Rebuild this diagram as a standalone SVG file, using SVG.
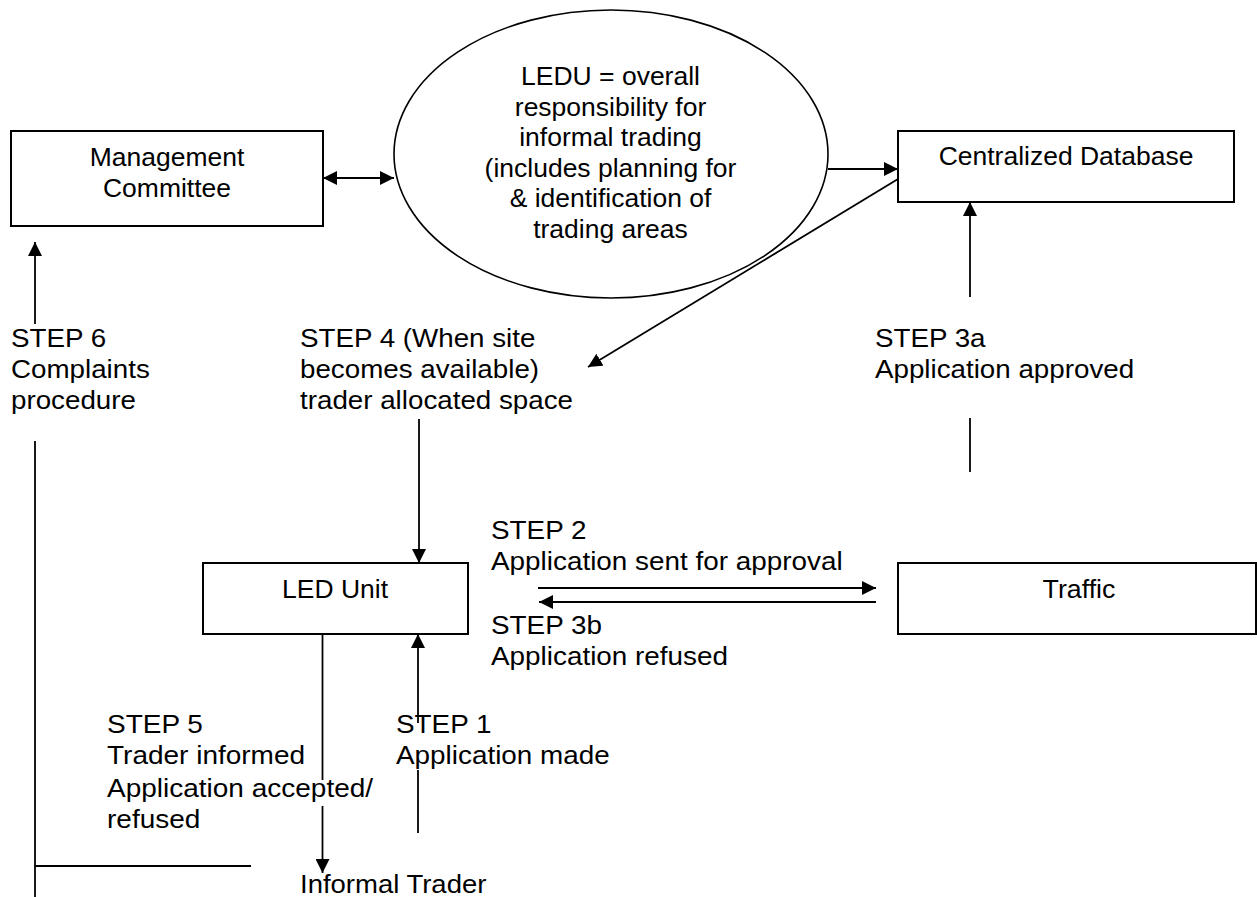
<svg xmlns="http://www.w3.org/2000/svg" width="1257" height="897" viewBox="0 0 1257 897">
  <defs>
    <marker id="arrow" markerUnits="userSpaceOnUse" markerWidth="14" markerHeight="14" refX="14" refY="7" orient="auto-start-reverse">
      <path d="M0,0 L14,7 L0,14 z" fill="#000"/>
    </marker>
  </defs>
  <style>
    .box { fill: #fff; stroke: #000; stroke-width: 2; }
    .oval { fill: #fff; stroke: #000; stroke-width: 1.6; }
    .lbl { font-family: "Liberation Sans", Arial, sans-serif; font-size: 25px; fill: #000; }
    .mid { text-anchor: middle; }
    .ln { stroke: #000; stroke-width: 1.8; fill: none; }
    .arr { marker-end: url(#arrow); }
    .both { marker-start: url(#arrow); marker-end: url(#arrow); }
    .textbg { fill: #fff; stroke: none; }
  </style>
  <rect width="1257" height="897" fill="#fff"/>

  <!-- connectors -->
  <g id="connectors">
    <line class="ln both" x1="323" y1="178" x2="394" y2="178"/>
    <line class="ln arr" x1="828" y1="169" x2="898" y2="169"/>
    <line class="ln arr" x1="898" y1="179" x2="588" y2="367"/>
    <line class="ln arr" x1="970" y1="297" x2="970" y2="202"/>
    <line class="ln" x1="970" y1="418" x2="970" y2="472"/>
    <line class="ln arr" x1="35" y1="324" x2="35" y2="242"/>
    <line class="ln" x1="35" y1="441" x2="35" y2="897"/>
    <line class="ln" x1="35" y1="866" x2="251" y2="866"/>
    <line class="ln arr" x1="419" y1="419" x2="419" y2="563"/>
    <line class="ln arr" x1="538" y1="588" x2="876" y2="588"/>
    <line class="ln arr" x1="876" y1="602" x2="539" y2="602"/>
    <line class="ln arr" x1="322.5" y1="634" x2="322.5" y2="873"/>
    <line class="ln arr" x1="418" y1="833" x2="418" y2="634"/>
  </g>

  <g id="management-committee">
    <rect class="box" x="11" y="131" width="312" height="95"/>
    <text class="lbl mid" transform="matrix(1.06 0 0 1 167 166)">Management</text>
    <text class="lbl mid" transform="matrix(1.06 0 0 1 167 197)">Committee</text>
  </g>

  <g id="ledu">
    <ellipse class="oval" cx="611" cy="154" rx="217" ry="144"/>
    <text class="lbl mid" transform="matrix(1.06 0 0 1 610.5 85)">LEDU = overall</text>
    <text class="lbl mid" transform="matrix(1.06 0 0 1 610.5 115.5)">responsibility for</text>
    <text class="lbl mid" transform="matrix(1.06 0 0 1 610.5 146)">informal trading</text>
    <text class="lbl mid" transform="matrix(1.06 0 0 1 610.5 176.5)">(includes planning for</text>
    <text class="lbl mid" transform="matrix(1.06 0 0 1 610.5 207)">&amp; identification of</text>
    <text class="lbl mid" transform="matrix(1.06 0 0 1 610.5 237.5)">trading areas</text>
  </g>

  <g id="centralized-database">
    <rect class="box" x="898" y="131" width="336" height="71"/>
    <text class="lbl mid" transform="matrix(1.06 0 0 1 1066 165)">Centralized Database</text>
  </g>

  <g id="led-unit">
    <rect class="box" x="203" y="563" width="265" height="71"/>
    <text class="lbl mid" transform="matrix(1.06 0 0 1 335 598)">LED Unit</text>
  </g>

  <g id="traffic">
    <rect class="box" x="898" y="563" width="358" height="71"/>
    <text class="lbl mid" transform="matrix(1.07 0 0 1 1079 598)">Traffic</text>
  </g>

  <g id="informal-trader">
    <text class="lbl" transform="matrix(1.1 0 0 1 300 893)">Informal Trader</text>
  </g>

  <g id="step-labels">
    <!-- white text backgrounds that mask the connectors running behind these lines -->
    <rect class="textbg" x="106" y="780" width="268" height="26"/>
    <rect class="textbg" x="396" y="723" width="215" height="47"/>

    <text class="lbl" transform="matrix(1.11 0 0 1 11 347)">STEP 6</text>
    <text class="lbl" transform="matrix(1.11 0 0 1 11 378)">Complaints</text>
    <text class="lbl" transform="matrix(1.11 0 0 1 11 409)">procedure</text>

    <text class="lbl" transform="matrix(1.11 0 0 1 300 347)">STEP 4 (When site</text>
    <text class="lbl" transform="matrix(1.11 0 0 1 300 378)">becomes available)</text>
    <text class="lbl" transform="matrix(1.11 0 0 1 300 409)">trader allocated space</text>

    <text class="lbl" transform="matrix(1.11 0 0 1 875 347)">STEP 3a</text>
    <text class="lbl" transform="matrix(1.11 0 0 1 875 378)">Application approved</text>

    <text class="lbl" transform="matrix(1.115 0 0 1 491 539)">STEP 2</text>
    <text class="lbl" transform="matrix(1.115 0 0 1 491 570)">Application sent for approval</text>

    <text class="lbl" transform="matrix(1.115 0 0 1 491 634)">STEP 3b</text>
    <text class="lbl" transform="matrix(1.115 0 0 1 491 665)">Application refused</text>

    <text class="lbl" transform="matrix(1.12 0 0 1 107 733)">STEP 5</text>
    <text class="lbl" transform="matrix(1.12 0 0 1 107 764)">Trader informed</text>
    <text class="lbl" transform="matrix(1.12 0 0 1 107 797)">Application accepted/</text>
    <text class="lbl" transform="matrix(1.12 0 0 1 107 828)">refused</text>

    <text class="lbl" transform="matrix(1.115 0 0 1 396 733)">STEP 1</text>
    <text class="lbl" transform="matrix(1.115 0 0 1 396 764)">Application made</text>
  </g>
</svg>
